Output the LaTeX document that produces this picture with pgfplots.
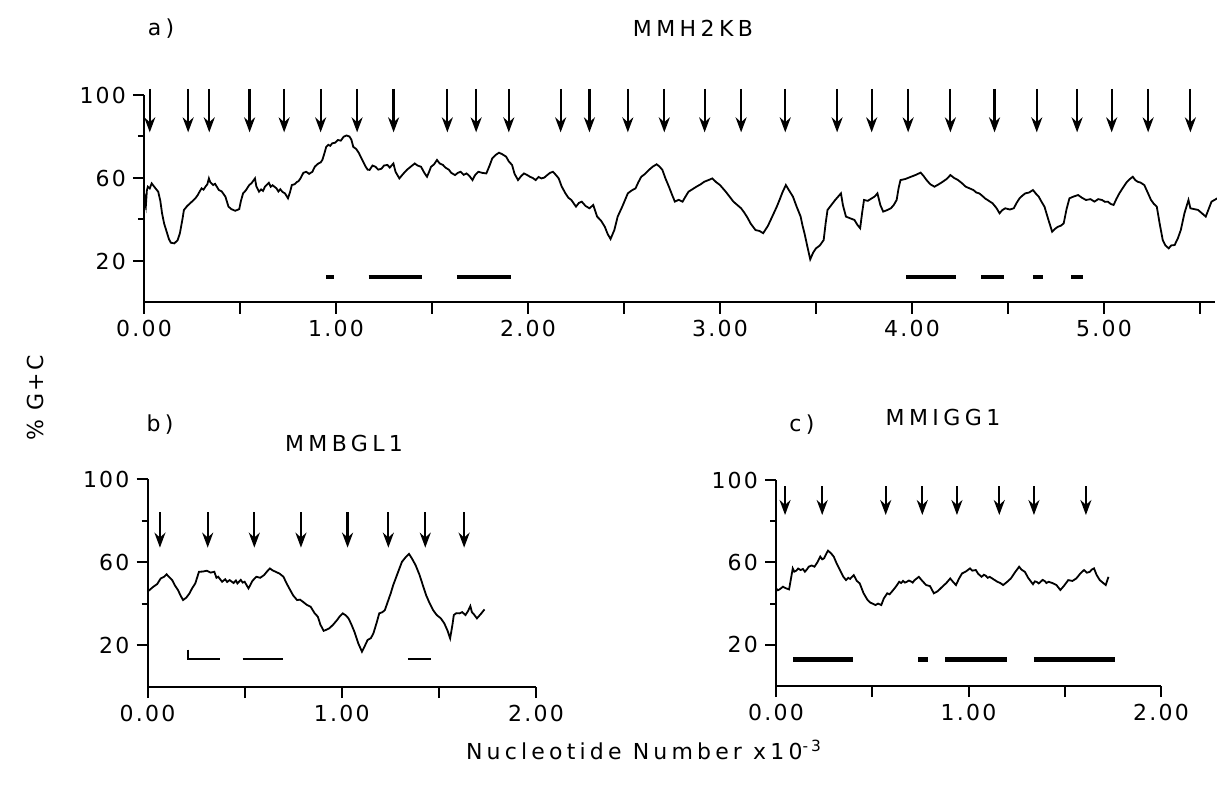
\documentclass[border=0pt]{standalone}
\usepackage{fontspec}
\setmainfont{DejaVu Sans}[LetterSpace=10]
\newfontfamily\titlefont{DejaVu Sans}[LetterSpace=20]
\newfontfamily\labfont{DejaVu Sans}[LetterSpace=19]
\usepackage{pgfplots}
\pgfplotsset{compat=1.18}
\usetikzlibrary{arrows.meta}
\pgfplotsset{
 gcstyle/.style={
  scale only axis, axis lines*=left, axis line style={line width=1pt},
  ymin=0, ymax=100, ytick={20,60,100}, yticklabels={20,60,100},
  minor ytick={40,80},
  tick align=outside, major tick length=5.5pt, minor tick length=3pt,
  every tick/.style={line width=1pt, black},
  tick label style={font=\fontsize{11}{13}\selectfont},
  clip=false,
  /pgf/number format/assume math mode=true,
 },
 arr/.style={-{Stealth[length=7.5pt,width=5.5pt]}, line width=1.1pt, black},
 curve/.style={black, line width=0.9pt},
}
\begin{document}
\begin{tikzpicture}[x=1pt,y=1pt]
\useasboundingbox (0,0) rectangle (608.5,399.5);
% ---------- panel a
\begin{axis}[gcstyle, at={(72pt,248.25pt)}, anchor=south west,
  width=535.68pt, height=103.75pt, xmin=0, xmax=5.58,
  xtick={0,0.5,1,1.5,2,2.5,3,3.5,4,4.5,5,5.5},
  xticklabels={0.00,,1.00,,2.00,,3.00,,4.00,,5.00,}]
\addplot[curve] coordinates {
(0,44) (0.005,50) (0.01,47) (0.015,54) (0.02,55.8) (0.03,55) (0.04,57.4) (0.06,55) (0.074,53.4) (0.085,49) (0.094,43) (0.105,38) (0.115,35) (0.13,30.5) (0.14,28.8) (0.158,28.5) (0.175,30) (0.187,33.4) (0.2,40) (0.208,44.6) (0.225,46.5) (0.24,47.8) (0.26,49.5) (0.27,50.5) (0.28,51.8) (0.29,53.5) (0.30,55) (0.31,54.4) (0.32,55.8) (0.33,57) (0.338,59.8) (0.345,58) (0.36,56.6) (0.37,57.2) (0.39,54.2) (0.405,53.5) (0.424,51) (0.44,46.2) (0.455,45) (0.475,44.2) (0.496,45) (0.505,49) (0.516,52.6) (0.53,54) (0.548,56.6) (0.56,57.5) (0.578,59.8) (0.585,56) (0.599,53.4) (0.61,54.5) (0.62,53.8) (0.63,55.8) (0.65,57.7) (0.66,55.8) (0.67,56.5) (0.69,55) (0.70,53.5) (0.71,54.6) (0.72,53.4) (0.735,52.5) (0.75,50.2) (0.76,53) (0.77,56.6) (0.785,57) (0.795,58) (0.805,58.5) (0.815,59.8) (0.83,62.5) (0.845,63) (0.86,62) (0.877,63) (0.89,65.5) (0.908,67) (0.92,67.5) (0.929,68.7) (0.94,72) (0.949,75) (0.96,76) (0.97,75.5) (0.98,76.7) (0.995,77) (1.01,78.3) (1.025,78) (1.04,79.9) (1.055,80.5) (1.07,80) (1.08,78.5) (1.09,75) (1.105,74) (1.12,71.9) (1.135,69) (1.155,65.4) (1.165,64) (1.175,63.9) (1.19,66) (1.206,65.4) (1.22,64) (1.237,64.5) (1.25,66) (1.268,66.3) (1.28,65) (1.299,67) (1.31,63) (1.33,59.8) (1.35,62) (1.37,64) (1.39,65.5) (1.41,67) (1.425,66) (1.443,65.4) (1.46,62.5) (1.474,60.6) (1.485,63) (1.495,65.4) (1.51,66.5) (1.526,68.7) (1.54,67) (1.557,66.3) (1.57,65) (1.588,64) (1.60,62.5) (1.62,61.4) (1.635,62.5) (1.649,63) (1.665,61.5) (1.68,62.2) (1.695,61) (1.711,59) (1.725,61.5) (1.742,63) (1.76,62.5) (1.783,62.2) (1.80,66) (1.814,69.5) (1.83,71) (1.849,72.2) (1.865,71.5) (1.886,70.3) (1.90,68) (1.917,66.3) (1.93,62) (1.948,59) (1.965,61) (1.979,62.2) (1.995,61.5) (2.01,60.6) (2.025,60) (2.04,59) (2.055,60.5) (2.07,59.8) (2.085,60.2) (2.10,61.4) (2.115,62.5) (2.13,63) (2.145,61.5) (2.16,59.8) (2.175,56) (2.195,52.6) (2.21,50.5) (2.226,49.4) (2.24,47.5) (2.25,46.2) (2.265,48) (2.28,48.6) (2.30,46.5) (2.32,45.4) (2.34,47) (2.36,41.4) (2.38,39.5) (2.40,36.5) (2.415,33) (2.43,30.6) (2.45,35) (2.467,41.4) (2.49,46) (2.52,52.6) (2.54,54) (2.56,55) (2.575,58) (2.59,60.6) (2.61,62) (2.63,63.9) (2.65,65.5) (2.67,66.6) (2.685,65.5) (2.70,63.9) (2.715,60) (2.734,55.8) (2.75,52) (2.765,48.6) (2.785,49.5) (2.805,48.6) (2.82,51) (2.836,53.4) (2.855,54.5) (2.877,55.8) (2.90,57) (2.918,58.2) (2.94,59) (2.96,59.8) (2.98,58) (3.0,56.6) (3.015,55) (3.03,53.4) (3.05,51) (3.07,48.6) (3.09,47) (3.11,45.4) (3.125,43.5) (3.14,41.4) (3.16,38) (3.185,34.9) (3.205,34.5) (3.225,33.4) (3.25,37) (3.28,43) (3.295,46) (3.31,49.4) (3.325,53) (3.343,56.6) (3.36,54) (3.38,51) (3.40,46) (3.42,41.4) (3.43,37) (3.44,33.4) (3.455,27) (3.47,20.8) (3.485,24) (3.50,26.1) (3.52,27.5) (3.54,30.1) (3.55,38) (3.56,44.6) (3.58,47) (3.60,49.4) (3.615,51) (3.63,52.6) (3.64,47) (3.656,41.4) (3.68,40.5) (3.70,39.8) (3.715,37.5) (3.73,35.8) (3.74,43) (3.75,49.4) (3.77,49) (3.79,50.2) (3.805,51) (3.82,52.6) (3.835,47) (3.85,43.8) (3.87,44.5) (3.89,45.4) (3.905,47) (3.92,49.4) (3.93,55) (3.94,59) (3.965,59.5) (3.995,60.6) (4.02,61.5) (4.045,62.6) (4.06,61) (4.076,59) (4.095,57) (4.117,55.8) (4.14,57) (4.16,58.2) (4.18,59.5) (4.20,61.4) (4.22,60) (4.24,59) (4.26,57.5) (4.28,55.8) (4.30,55) (4.32,54.2) (4.335,53) (4.35,52.6) (4.365,51.5) (4.38,50.2) (4.40,49) (4.42,47.8) (4.44,45.5) (4.456,43) (4.47,44.5) (4.486,45.4) (4.51,44.8) (4.53,45.4) (4.545,48) (4.56,50.2) (4.575,51.5) (4.59,52.6) (4.61,53) (4.63,54.2) (4.645,52.5) (4.66,51) (4.675,48.5) (4.69,46.2) (4.71,40) (4.73,34.1) (4.745,35.5) (4.76,36.5) (4.775,37) (4.79,38.1) (4.805,45) (4.82,50.2) (4.84,51) (4.865,51.8) (4.885,50.5) (4.906,49.4) (4.93,49.8) (4.95,48.6) (4.97,49.8) (4.99,49.4) (5.005,48.5) (5.02,48.6) (5.035,47.5) (5.05,47) (5.065,50) (5.08,52.6) (5.10,55.5) (5.12,58.2) (5.135,59.5) (5.15,60.6) (5.163,59) (5.175,58.2) (5.19,57.8) (5.21,56.6) (5.23,52.5) (5.245,49.4) (5.26,47.5) (5.275,46.2) (5.29,38) (5.306,30.1) (5.32,27.5) (5.337,26.1) (5.35,27.5) (5.368,27.7) (5.385,31) (5.40,34.9) (5.419,43) (5.44,49.4) (5.45,45.4) (5.47,45) (5.49,44.6) (5.51,43) (5.53,41.4) (5.545,45) (5.56,48.6) (5.59,50.2)
};
\addplot[arr, quiver={u=0,v=-21}] coordinates {
(0.03,103) (0.23,103) (0.34,103) (0.55,103) (0.73,103) (0.92,103) (1.11,103) (1.30,103) (1.58,103) (1.73,103) (1.90,103) (2.17,103) (2.32,103) (2.52,103) (2.71,103) (2.92,103) (3.11,103) (3.34,103) (3.61,103) (3.79,103) (3.98,103) (4.20,103) (4.43,103) (4.65,103) (4.86,103) (5.04,103) (5.23,103) (5.45,103)};
\addplot[black, line width=2.4pt] coordinates {(0.95,12.3) (0.99,12.3)};
\addplot[black, line width=2.4pt] coordinates {(1.17,12.3) (1.45,12.3)};
\addplot[black, line width=2.4pt] coordinates {(1.63,12.3) (1.91,12.3)};
\addplot[black, line width=2.4pt] coordinates {(3.97,12.3) (4.23,12.3)};
\addplot[black, line width=2.4pt] coordinates {(4.36,12.3) (4.48,12.3)};
\addplot[black, line width=2.4pt] coordinates {(4.63,12.3) (4.68,12.3)};
\addplot[black, line width=2.4pt] coordinates {(4.83,12.3) (4.89,12.3)};
\end{axis}
% ---------- panel b
\begin{axis}[gcstyle, at={(73.75pt,56pt)}, anchor=south west,
  width=194.25pt, height=104pt, xmin=0, xmax=2,
  xtick={0,0.5,1,1.5,2}, xticklabels={0.00,,1.00,,2.00}]
\addplot[curve] coordinates {
(0,45.8) (0.015,47) (0.03,48.2) (0.05,49.5) (0.068,52.2) (0.085,53) (0.098,54.2) (0.11,53) (0.127,51.4) (0.14,49) (0.157,46.6) (0.17,44) (0.183,41.8) (0.2,43) (0.216,45) (0.23,47.5) (0.246,49.8) (0.265,55.4) (0.285,55.5) (0.305,55.9) (0.325,55) (0.344,55.4) (0.355,52.5) (0.364,53) (0.384,50.6) (0.40,51.8) (0.41,50.5) (0.423,51.4) (0.443,50) (0.455,51.2) (0.463,49.8) (0.48,51.5) (0.49,50.2) (0.50,50.6) (0.52,47.4) (0.54,51) (0.55,52) (0.561,53) (0.58,52.5) (0.60,53.8) (0.615,55.5) (0.63,57) (0.645,56) (0.66,55.4) (0.68,54.5) (0.70,53) (0.715,50) (0.73,47.4) (0.75,44) (0.77,41.8) (0.785,42) (0.80,41) (0.82,39.5) (0.84,38.6) (0.86,35.5) (0.877,33.8) (0.89,30) (0.907,27) (0.92,27.5) (0.936,28.2) (0.956,30) (0.976,32.2) (0.99,34) (1.005,35.4) (1.02,34.5) (1.035,33) (1.05,30) (1.065,26.6) (1.085,21) (1.104,17) (1.12,20) (1.133,22.6) (1.15,23.5) (1.163,25.8) (1.18,31) (1.193,35.4) (1.21,36) (1.222,37) (1.237,41) (1.252,45) (1.265,49) (1.281,53) (1.295,56.5) (1.31,60.2) (1.33,62.5) (1.346,64) (1.36,62) (1.38,58.6) (1.40,54) (1.42,48.2) (1.435,44) (1.449,41) (1.47,37) (1.489,34.6) (1.51,33) (1.528,30.6) (1.545,27) (1.558,23.4) (1.57,30) (1.577,34.6) (1.59,35.5) (1.607,35.4) (1.62,36) (1.637,34.6) (1.65,36.5) (1.662,38.9) (1.67,36) (1.68,35) (1.696,33) (1.715,35) (1.735,37.3)
};
\addplot[arr, quiver={u=0,v=-17}] coordinates {
(0.064,84) (0.31,84) (0.55,84) (0.79,84) (1.03,84) (1.24,84) (1.43,84) (1.63,84)};
\addplot[black, line width=0.9pt] coordinates {(0.21,18) (0.21,13.5) (0.375,13.5)};
\addplot[black, line width=1.1pt] coordinates {(0.49,13.5) (0.70,13.5)};
\addplot[black, line width=1.1pt] coordinates {(1.34,13.5) (1.46,13.5)};
\end{axis}
% ---------- panel c
\begin{axis}[gcstyle, at={(388pt,56.5pt)}, anchor=south west,
  width=192.5pt, height=103pt, xmin=0, xmax=2,
  xtick={0,0.5,1,1.5,2}, xticklabels={0.00,,1.00,,2.00}]
\addplot[curve] coordinates {
(0,47.4) (0.01,46.5) (0.02,47) (0.036,48.2) (0.05,47.5) (0.068,46.9) (0.087,57.1) (0.095,55.5) (0.105,56) (0.115,57) (0.128,56.3) (0.14,56.8) (0.15,55.5) (0.16,56.5) (0.17,57.9) (0.185,58.5) (0.2,57.9) (0.215,60) (0.23,62.8) (0.24,61.5) (0.25,62) (0.26,64) (0.27,65.7) (0.285,64.5) (0.30,62.8) (0.315,59.5) (0.332,56.3) (0.35,53) (0.364,51.4) (0.375,52.5) (0.385,52) (0.395,53) (0.404,53.8) (0.42,51) (0.435,49.8) (0.455,45) (0.476,41.7) (0.49,40.5) (0.517,39.3) (0.53,40) (0.547,39.3) (0.56,42.5) (0.578,45) (0.59,44.5) (0.609,46.6) (0.625,48.5) (0.64,50.6) (0.65,50) (0.66,51) (0.67,50.2) (0.68,50.6) (0.69,51.2) (0.70,50.8) (0.71,50.2) (0.72,51.4) (0.742,53) (0.76,51) (0.78,49) (0.80,48.5) (0.82,45) (0.84,46) (0.864,48.2) (0.885,50) (0.905,52.2) (0.92,50.5) (0.935,49) (0.95,52) (0.966,54.6) (0.985,55.5) (1.008,57.1) (1.02,56) (1.038,56.3) (1.05,54.5) (1.068,53) (1.08,54) (1.09,53.5) (1.10,52.5) (1.11,53) (1.13,51.8) (1.15,50.6) (1.165,50) (1.18,49) (1.20,50.5) (1.22,52.2) (1.24,55) (1.263,57.9) (1.275,56.5) (1.293,55.4) (1.31,52.5) (1.335,49.4) (1.345,50.8) (1.355,50.5) (1.365,49.8) (1.375,50.6) (1.385,51.5) (1.395,51) (1.405,50) (1.416,50.6) (1.435,50) (1.457,49) (1.477,46.6) (1.495,48.5) (1.518,51.4) (1.54,51) (1.56,52.2) (1.58,54.5) (1.60,56.3) (1.615,55) (1.63,55.4) (1.64,56.5) (1.652,57.1) (1.665,54) (1.682,51.4) (1.7,50) (1.713,49) (1.727,53)
};
\addplot[arr, quiver={u=0,v=-14}] coordinates {
(0.047,97) (0.24,97) (0.57,97) (0.76,97) (0.94,97) (1.16,97) (1.34,97) (1.61,97)};
\addplot[black, line width=2.4pt] coordinates {(0.09,13) (0.40,13)};
\addplot[black, line width=2.4pt] coordinates {(0.74,13) (0.79,13)};
\addplot[black, line width=2.4pt] coordinates {(0.88,13) (1.20,13)};
\addplot[black, line width=2.4pt] coordinates {(1.34,13) (1.76,13)};
\end{axis}
% ---------- texts
\node[font={\titlefont\fontsize{11}{13}\selectfont}] at (80.5,385) {a)};
\node[font={\titlefont\fontsize{11}{13}\selectfont}] at (346.5,385.5) {MMH2KB};
\node[font={\titlefont\fontsize{11}{13}\selectfont}] at (80,187) {b)};
\node[font={\titlefont\fontsize{11}{13}\selectfont}] at (172,178) {MMBGL1};
\node[font={\titlefont\fontsize{11}{13}\selectfont}] at (401,187) {c)};
\node[font={\titlefont\fontsize{11}{13}\selectfont}] at (471.5,191) {MMIGG1};
\node[font={\fontsize{11}{13}\selectfont}, rotate=90] at (17.5,200.5) {\% G+C};
\node[font={\labfont\fontsize{11}{13}\selectfont}] at (322,24.5) {Nucleotide Number x10\textsuperscript{-3}};
\end{tikzpicture}
\end{document}
